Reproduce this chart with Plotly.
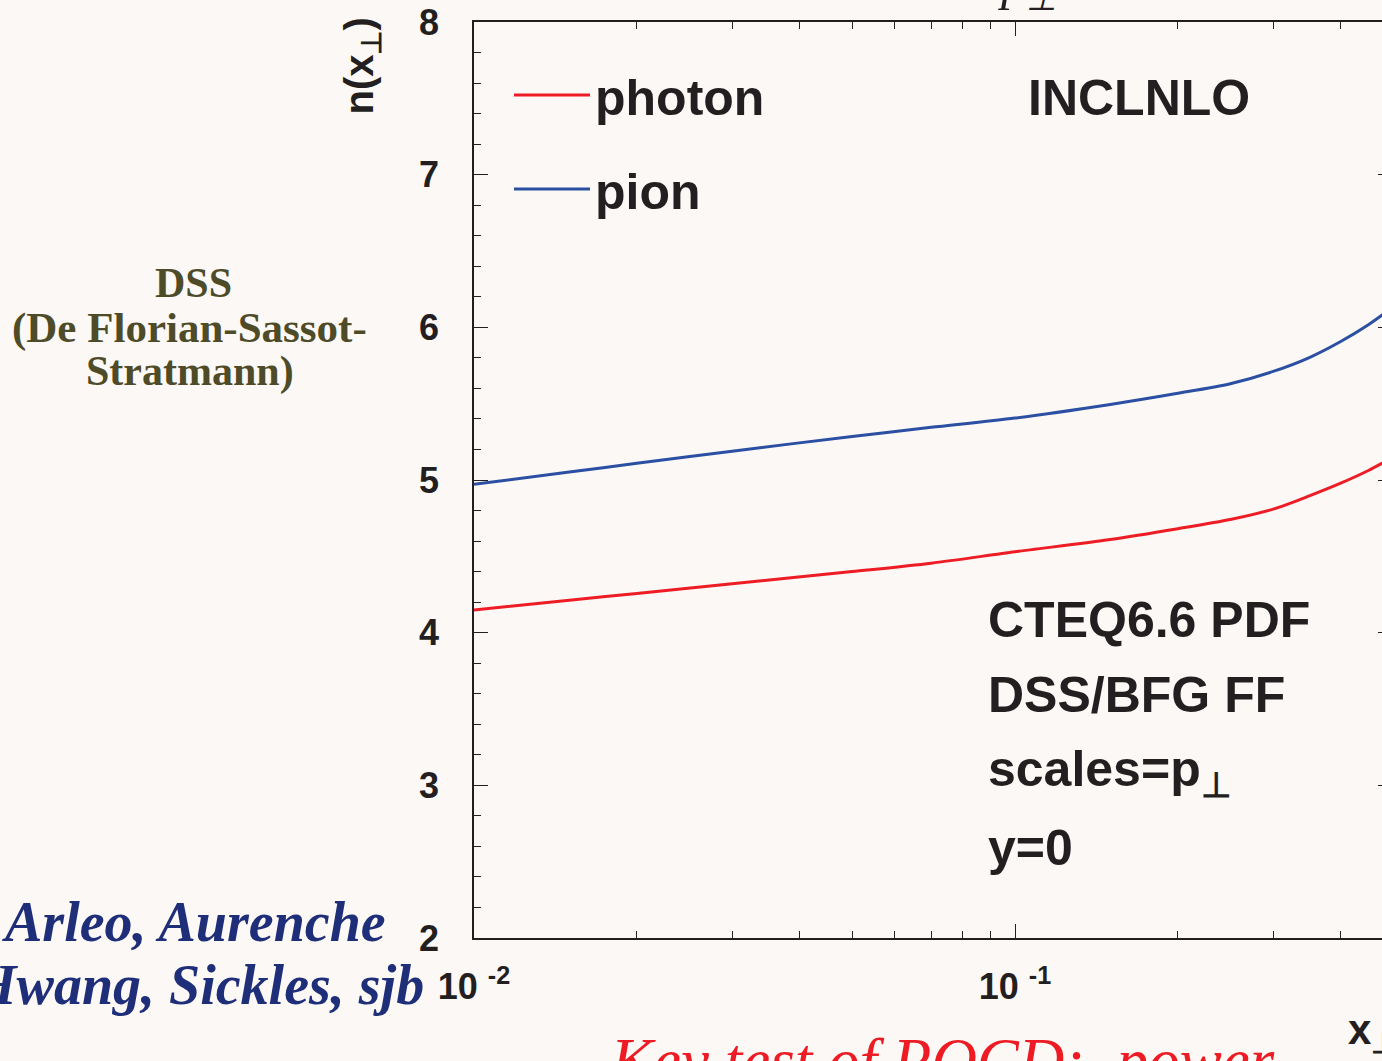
import plotly.graph_objects as go

# ---- data ----
x_vals = [0.01, 0.015, 0.02, 0.03, 0.05, 0.07, 0.1, 0.15, 0.2, 0.25, 0.3, 0.35, 0.4, 0.45, 0.48]
photon = [4.149, 4.212, 4.257, 4.320, 4.400, 4.455, 4.530, 4.610, 4.681, 4.741, 4.809, 4.896, 4.979, 5.062, 5.115]
pion = [4.972, 5.052, 5.109, 5.189, 5.285, 5.345, 5.406, 5.495, 5.568, 5.631, 5.711, 5.802, 5.907, 6.017, 6.087]
x_tickvals = [0.01, 0.1]
x_ticktext = ["10\u00a0<sup>-2</sup>", "10\u00a0<sup>-1</sup>"]
x_minor = [0.02, 0.03, 0.04, 0.05, 0.06, 0.07, 0.08, 0.09, 0.2, 0.3, 0.4]
y_ticks = [2, 3, 4, 5, 6, 7, 8]

W, H = 1382, 1061
L, R, T, B = 474, 0, 22, 123
PW, PH = W - L - R, H - T - B

def px(xp):
    return (xp - L) / PW

def py(yp):
    return (H - B - yp) / PH

BG = "#FBF8F5"
INK = "#231F20"
RED = "#EE1C25"
BLUE = "#2B4FA3"
SANS = "Liberation Sans, Arial, sans-serif"
SERIF = "Liberation Serif, Times New Roman, serif"

fig = go.Figure()
fig.add_trace(go.Scatter(x=x_vals, y=photon, mode="lines", name="photon",
                         line=dict(color=RED, width=3, shape="spline", smoothing=0.8),
                         legendgroup="a"))
fig.add_trace(go.Scatter(x=x_vals, y=pion, mode="lines", name="pion",
                         line=dict(color=BLUE, width=3, shape="spline", smoothing=0.8),
                         legendgroup="b"))
# invisible trace to host the right-hand mirrored y ticks
fig.add_trace(go.Scatter(x=[x_vals[0]], y=[pion[0]], yaxis="y2", mode="lines",
                         showlegend=False, hoverinfo="skip", line=dict(width=0)))

xr = [-2, -2 + PW / 541.0]

fig.update_layout(
    width=W, height=H,
    margin=dict(l=L, r=R, t=T, b=B, pad=0),
    paper_bgcolor=BG, plot_bgcolor=BG,
    font=dict(family=SANS, color=INK, size=36, weight="bold"),
    xaxis=dict(type="log", range=xr, showgrid=False, zeroline=False,
               showline=True, linecolor=INK, linewidth=1.5, mirror="ticks",
               ticks="inside", ticklen=14, tickwidth=1.2, tickcolor=INK,
               tickvals=x_tickvals, ticktext=x_ticktext,
               tickfont=dict(size=36, family=SANS, color=INK, weight="bold"),
               ticklabelstandoff=16,
               minor=dict(ticks="inside", ticklen=7, tickwidth=1.2, tickcolor=INK,
                          tickvals=x_minor, showgrid=False)),
    yaxis=dict(range=[2, 8], showgrid=False, zeroline=False,
               showline=True, linecolor=INK, linewidth=1.5, mirror=False,
               ticks="inside", ticklen=14, tickwidth=1.2, tickcolor=INK,
               tickvals=y_ticks,
               tickfont=dict(size=36, family=SANS, color=INK, weight="bold"),
               ticklabelstandoff=26,
               minor=dict(ticks="inside", ticklen=7, tickwidth=1.2, tickcolor=INK,
                          dtick=0.2, showgrid=False)),
    yaxis2=dict(range=[2, 8], overlaying="y", side="right", anchor="x",
                showgrid=False, zeroline=False, showline=False,
                ticks="inside", ticklen=4, tickwidth=1.2, tickcolor=INK,
                tickvals=y_ticks, showticklabels=False),
    legend=dict(x=px(509), y=py(56), xanchor="left", yanchor="top",
                bgcolor="rgba(0,0,0,0)", borderwidth=0, itemwidth=76,
                font=dict(size=50, family=SANS, color=INK, weight="bold"),
                traceorder="grouped", tracegroupgap=26),
    showlegend=True,
)

ann = []
def text(s, x, y, size, xanchor="left", yanchor="middle", family=SANS, color=INK,
         weight="bold", style="normal", angle=0):
    ann.append(dict(text=s, x=px(x), y=py(y), xref="paper", yref="paper",
                    xanchor=xanchor, yanchor=yanchor, showarrow=False, textangle=angle,
                    font=dict(size=size, family=family, color=color, weight=weight, style=style)))

text("INCLNLO", 1026, 98, 50)
text("CTEQ6.6 PDF", 986, 620, 50)
text("DSS/BFG FF", 986, 695, 50)
text("scales=p<sub>⊥</sub>", 986, 772, 50)
text("y=0", 986, 848, 50)

# axis titles
text("n(x<sub>⊥</sub>)", 362, 16, 40, xanchor="center", yanchor="top", angle=-90)
text("x<sub>⊥</sub>", 1346, 1032, 42)

# cut-off title fragment at top
text("p<sub>⊥</sub>", 996, 20, 50, yanchor="bottom", family=SERIF, weight="normal", style="italic")

# left-side slide text
OLIVE = "#4E4B28"
text("DSS", 193, 283, 42, xanchor="center", family=SERIF, color=OLIVE)
text("(De Florian-Sassot-", 189, 328, 43, xanchor="center", family=SERIF, color=OLIVE)
text("Stratmann)", 190, 372, 42, xanchor="center", family=SERIF, color=OLIVE)

NAVY = "#1F2E78"
text("Arleo, Aurenche", 388, 922, 56, xanchor="right", family=SERIF, color=NAVY, style="italic")
text("Hwang, Sickles, sjb", 426, 985, 56, xanchor="right", family=SERIF, color=NAVY, style="italic")

text("Key test of PQCD:\u00a0 power", 608, 1024, 63, yanchor="top",
     family=SERIF, color="#ED1C24", weight="normal", style="italic")

fig.update_layout(annotations=ann)
fig.write_html("out.html", config={"displayModeBar": False},
               post_script="document.body.style.margin='0';document.body.style.padding='0';"
                           "document.body.style.background='" + BG + "';"
                           "document.documentElement.style.overflow='hidden';")
